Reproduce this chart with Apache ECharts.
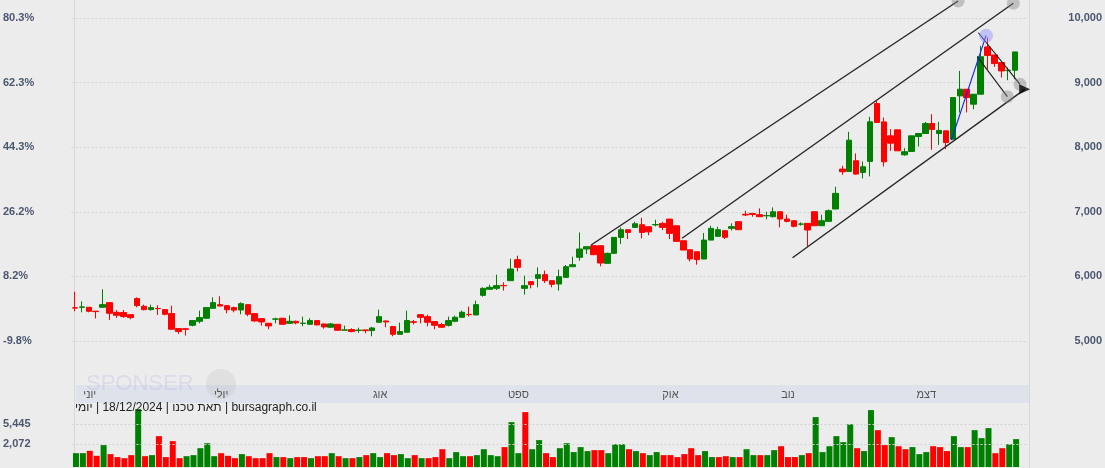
<!DOCTYPE html>
<html><head><meta charset="utf-8">
<script src="https://cdn.jsdelivr.net/npm/echarts@6/dist/echarts.min.js"></script>
<style>html,body{margin:0;padding:0;background:#ececec}#c{width:1105px;height:468px}</style>
</head><body><div id="c"></div>
<script>
// ---- data ----
const opens  = [5515,5522,5522,5462,5522,5594,5444,5440,5408,5656,5537,5486,5504,5486,5424,5192,5190,5243,5305,5352,5506,5563,5547,5517,5480,5563,5424,5347,5274,5338,5352,5274,5305,5272,5259,5316,5264,5213,5259,5168,5177,5164,5172,5161,5290,5310,5223,5104,5135,5298,5408,5377,5300,5254,5243,5305,5367,5412,5403,5707,5800,5815,5860,5934,6259,5815,5919,5970,6027,5934,5882,5985,6150,6295,6424,6475,6475,6202,6357,6604,6722,6758,6800,6769,6797,6820,6887,6784,6552,6413,6382,6269,6562,6620,6708,6744,6847,6962,6975,6955,6938,6924,7001,6888,6862,6808,6821,7001,6785,6852,7043,7661,7625,7790,7610,7780,8676,8392,8176,8269,7882,7934,8166,8212,8367,8212,8253,8124,8794,8898,8666,8820,9552,9428,9310,9186,9191];
const closes = [5510,5528,5460,5455,5563,5429,5398,5378,5362,5548,5486,5517,5500,5414,5182,5146,5180,5316,5362,5517,5594,5542,5485,5478,5578,5414,5310,5295,5233,5342,5259,5305,5280,5276,5316,5249,5218,5264,5166,5172,5146,5168,5160,5202,5377,5295,5104,5146,5316,5290,5367,5290,5243,5213,5316,5367,5445,5408,5563,5815,5831,5857,5855,6114,6140,5857,5872,6027,5934,5877,5996,6150,6181,6424,6460,6336,6207,6357,6604,6722,6681,6815,6681,6690,6803,6758,6666,6542,6408,6270,6260,6562,6743,6723,6605,6770,6723,6950,6958,6924,6942,7001,6888,6852,6775,6812,6718,6785,6862,7017,7285,7620,8109,7584,7697,8393,8382,7774,8063,7944,7930,8176,8212,8367,8275,8260,8073,8769,8898,8769,8820,9400,9420,9294,9181,9192,9475];
const lows   = [5460,5444,5444,5350,5515,5326,5357,5357,5336,5522,5475,5470,5403,5398,5180,5110,5084,5228,5274,5341,5506,5537,5429,5444,5413,5383,5300,5238,5182,5274,5259,5264,5259,5228,5254,5245,5192,5210,5160,5166,5135,5125,5120,5073,5290,5213,5073,5100,5135,5254,5274,5228,5182,5202,5223,5290,5367,5378,5403,5687,5800,5790,5780,5934,6078,5718,5815,5831,5898,5831,5779,5975,6150,6243,6346,6336,6156,6202,6357,6501,6578,6758,6588,6637,6774,6717,6578,6542,6408,6233,6181,6269,6562,6620,6579,6708,6723,6934,6924,6924,6883,6914,6759,6836,6759,6785,6460,6785,6785,6852,7043,7573,7625,7573,7517,7548,8382,7702,7944,7944,7867,7934,8011,8212,7960,8037,7970,8124,8537,8537,8588,8820,9207,9243,9078,9037,9052];
const highs  = [5764,5614,5522,5462,5800,5600,5480,5480,5410,5676,5563,5563,5553,5490,5547,5195,5202,5320,5470,5517,5676,5692,5558,5532,5599,5568,5424,5350,5280,5362,5357,5398,5316,5377,5352,5320,5270,5280,5262,5238,5197,5207,5175,5218,5486,5316,5225,5285,5470,5326,5410,5408,5305,5280,5378,5393,5470,5532,5625,5831,5872,6027,5908,6274,6320,6011,5919,6140,6089,5934,6104,6176,6305,6681,6460,6475,6475,6367,6604,6758,6722,6846,6908,6769,6877,6846,6887,6784,6552,6413,6382,6671,6784,6769,6708,6821,6847,7017,6975,7053,7001,7068,7001,6955,6862,6837,6821,7001,6955,7037,7388,7713,8238,7903,7780,8470,8717,8459,8279,8269,7985,8176,8212,8392,8511,8392,8253,8769,9181,8898,8820,9567,9696,9428,9310,9232,9475];
const volumes = [1350,1350,1510,1190,1980,1290,1120,1065,1230,10950,1170,1230,3030,1120,2390,1065,1170,1230,1710,2170,1170,1350,1190,1065,1290,1170,1065,1065,1350,1120,1120,1065,1120,1120,1065,1170,1170,1350,1170,1065,1065,1120,1230,1350,1120,1350,1230,1290,1065,1230,1065,1065,1120,1630,1065,1420,1170,1170,1230,1630,1230,1170,1800,5900,1350,9490,1630,2510,1350,1120,1710,2170,1420,1800,1490,1560,1560,1350,2070,2070,1630,1490,1350,1230,1420,1230,1230,1120,1290,1710,1230,1490,1120,1120,1170,1120,1120,1630,1230,1230,1230,1560,1880,1120,1120,1230,1350,7490,1420,1880,3030,2280,5360,1710,1490,10440,4030,1980,2890,1880,1630,1800,1290,1420,1880,1800,1490,3030,1800,1800,4030,2760,4440,1350,1710,2070,2630];
const prevClose0 = 5490;          // close of the session before the first candle
const basePrice = 5545;           // reference price for the % scale
const volumeMarks = [2072, 5445];
const days = Array.from({length: 138}, (_, i) => i < 137 ? String(i + 1) : '');
const monthNames = ['יוני','יולי','אוג','ספט','אוק','נוב','דצמ'];
const monthAt    = [2, 21, 44, 64, 86, 103, 123];
const titleText = 'bursagraph.co.il | תאת טכנו | 18/12/2024 | יומי';
// drawing-tool annotations, in (session index, price)
const channelLines = [
  [[74.67, 6486], [127.75, 10263]],
  [[87.82, 6590], [135.74, 10228]],
  [[103.80, 6289], [137.38, 8896]]
];
const blueLine = [[126.78, 8111], [131.79, 9726]];
const fanLines = [
  [[130.68, 9772], [136.71, 8974]],
  [[130.53, 9401], [134.87, 8782]]
];
const greyHandles = [[127.75, 10263], [135.74, 10228], [134.87, 8782], [136.71, 8974]];
const blueHandle = [[131.79, 9726]];
const arrowTip = [[137.38, 8896]];

// ---- chart ----
const UP = '#008000', DOWN = '#ff0000';
const LBL = '#4b5770';
const FONT = 'Liberation Sans';
const candles = opens.map((o, i) => [o, closes[i], lows[i], highs[i]]);
const volColors = closes.map((c, i) => c >= (i === 0 ? prevClose0 : closes[i - 1]) ? UP : DOWN);

const lineSeries = [];
channelLines.forEach(l => lineSeries.push({type:'line', xAxisIndex:1, yAxisIndex:0, data:l, symbol:'none', clip:false, silent:true,
  lineStyle:{color:'#262626', width:1.4}, z:5}));
fanLines.forEach(l => lineSeries.push({type:'line', xAxisIndex:1, yAxisIndex:0, data:l, symbol:'none', clip:false, silent:true,
  lineStyle:{color:'#1a1a1a', width:1.1}, z:5}));
lineSeries.push({type:'line', xAxisIndex:1, yAxisIndex:0, data:blueLine, symbol:'none', clip:false, silent:true,
  lineStyle:{color:'#1020ff', width:1.1}, z:5});

const chart = echarts.init(document.getElementById('c'), null, {renderer:'canvas'});
chart.setOption({
  animation:false,
  backgroundColor:'#ececec',
  textStyle:{fontFamily:FONT},
  title:{text:'\u202B' + titleText + '\u202C', left:75, top:402, padding:0,
    textStyle:{fontSize:12, fontWeight:'normal', color:'#222', fontFamily:FONT}},
  grid:[
    {left:71.5, top:18, width:955, height:323},
    {left:71.5, top:405, width:955, height:62}
  ],
  xAxis:[
    {type:'category', gridIndex:0, data:days, show:false},
    {type:'value', gridIndex:0, min:-0.5, max:137.5, show:false},
    {type:'category', gridIndex:1, data:days, position:'top',
      axisLine:{show:false}, axisTick:{show:false}, splitLine:{show:false},
      axisLabel:{interval:(i)=>monthAt.indexOf(i) >= 0, formatter:(v, i)=>{const k = monthAt.indexOf(i); return k >= 0 ? monthNames[k] : '';},
        margin:4.5, color:'#555', fontSize:11, fontFamily:FONT, hideOverlap:false}}
  ],
  yAxis:[
    {type:'value', gridIndex:0, position:'right', min:5000, max:10000, interval:1000,
      axisLine:{show:false}, axisTick:{show:false},
      splitLine:{show:true, lineStyle:{color:'#d2d2d2', type:[2,2], width:1}},
      axisLabel:{align:'right', margin:76.5, color:LBL, fontWeight:'bold', fontSize:11, fontFamily:FONT,
        formatter:(v)=>v.toLocaleString('en-US')}},
    {type:'value', gridIndex:0, position:'left', min:5000, max:10000, interval:1000,
      axisLine:{show:false}, axisTick:{show:false}, splitLine:{show:false},
      axisLabel:{align:'left', margin:68.5, color:LBL, fontWeight:'bold', fontSize:11, fontFamily:FONT,
        formatter:(v)=>((v / basePrice - 1) * 100).toFixed(1) + '%'}},
    {type:'log', gridIndex:1, logBase:10, min:700, max:13300,
      axisLine:{show:false}, axisTick:{show:false}, splitLine:{show:false},
      axisLabel:{customValues:volumeMarks, align:'left', margin:69.5, color:LBL, fontWeight:'bold', fontSize:11, fontFamily:FONT,
        formatter:(v)=>Math.round(v).toLocaleString('en-US')}}
  ],
  graphic:[
    {type:'rect', z:-1, shape:{x:76, y:385, width:953, height:18}, style:{fill:'#dee2ea'}, silent:true},
    {type:'line', z:-1, shape:{x1:74.5, y1:0, x2:74.5, y2:468}, style:{stroke:'#d7d7d7', lineWidth:1}, silent:true},
    {type:'line', z:-1, shape:{x1:1029.5, y1:0, x2:1029.5, y2:468}, style:{stroke:'#d7d7d7', lineWidth:1}, silent:true},
    {type:'text', z:-1, x:86, y:373, style:{text:'SPONSER', font:'22px "Liberation Sans"', fill:'rgba(165,150,225,0.2)'}, silent:true},
    {type:'circle', z:-1, shape:{cx:221, cy:384, r:15}, style:{fill:'rgba(120,120,120,0.10)'}, silent:true}
  ],
  series:[
    {type:'candlestick', xAxisIndex:0, yAxisIndex:0, data:candles, barWidth:6,
      itemStyle:{color:UP, color0:DOWN, borderColor:UP, borderColor0:DOWN, borderWidth:1}},
    ...lineSeries,
    {type:'scatter', xAxisIndex:1, yAxisIndex:0, data:greyHandles, symbolSize:13, clip:false, silent:true,
      itemStyle:{color:'rgba(128,128,128,0.5)'}, z:6},
    {type:'scatter', xAxisIndex:1, yAxisIndex:0, data:blueHandle, symbolSize:14, clip:false, silent:true,
      itemStyle:{color:'rgba(140,140,255,0.55)'}, z:6},
    {type:'scatter', xAxisIndex:1, yAxisIndex:0, data:arrowTip, symbol:'triangle', symbolSize:[10,11], symbolRotate:-90, clip:false, silent:true,
      itemStyle:{color:'#000'}, z:7},
    {type:'bar', xAxisIndex:2, yAxisIndex:2, data:volumes.map((v, i) => ({value:v, itemStyle:{color:volColors[i]}})),
      barWidth:6, clip:true,
      markLine:{silent:true, symbol:'none', label:{show:false},
        lineStyle:{color:'#d2d2d2', type:[2,2], width:1},
        data:volumeMarks.map(v => ({yAxis:v}))}}
  ]
});
</script></body></html>
